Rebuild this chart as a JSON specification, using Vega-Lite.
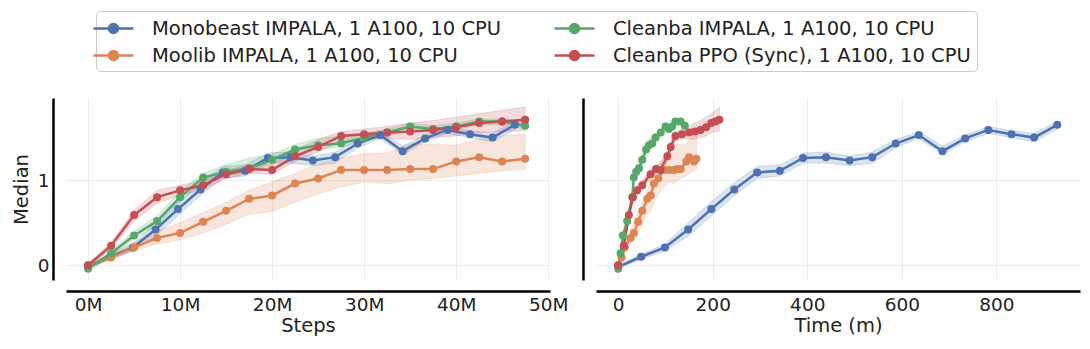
{
  "$schema": "https://vega.github.io/schema/vega-lite/v6.json",
  "padding": {"left": 11, "top": 10, "right": 9, "bottom": 8},
  "config": {
    "font": "DejaVu Sans",
    "view": {"stroke": null},
    "axis": {
      "labelFontSize": 18.5, "titleFontSize": 19.5, "titleFontWeight": "normal",
      "labelColor": "#222222", "titleColor": "#222222",
      "domainColor": "#000000", "domainWidth": 2.5, "ticks": false,
      "gridColor": "#ebebeb", "gridWidth": 1
    },
    "legend": {
      "orient": "none", "legendX": 30, "legendY": -87, "columns": 2, "title": null,
      "symbolType": "M-2,0H2M0.45,0A0.45,0.45,0,1,1,-0.45,0A0.45,0.45,0,1,1,0.45,0Z",
      "symbolSize": 400, "symbolStrokeWidth": 2.5, "symbolOpacity": 1,
      "labelFontSize": 19.5, "labelFont": "DejaVu Sans", "labelLimit": 600, "labelOffset": 27, "labelColor": "#222222",
      "columnPadding": 47, "rowPadding": 6, "padding": 6,
      "strokeColor": "#cccccc", "cornerRadius": 4, "fillColor": "white"
    }
  },
  "data": {"values": [
    {"s": "Monobeast IMPALA, 1 A100, 10 CPU", "step": 0, "time": 0, "v": -0.02, "lo": -0.04, "hi": 0.0},
    {"s": "Monobeast IMPALA, 1 A100, 10 CPU", "step": 2.44, "time": 48.7, "v": 0.10, "lo": 0.07, "hi": 0.13},
    {"s": "Monobeast IMPALA, 1 A100, 10 CPU", "step": 4.88, "time": 98.8, "v": 0.21, "lo": 0.17, "hi": 0.25},
    {"s": "Monobeast IMPALA, 1 A100, 10 CPU", "step": 7.33, "time": 148, "v": 0.42, "lo": 0.34, "hi": 0.50},
    {"s": "Monobeast IMPALA, 1 A100, 10 CPU", "step": 9.77, "time": 197, "v": 0.66, "lo": 0.58, "hi": 0.75},
    {"s": "Monobeast IMPALA, 1 A100, 10 CPU", "step": 12.21, "time": 245.5, "v": 0.89, "lo": 0.82, "hi": 0.97},
    {"s": "Monobeast IMPALA, 1 A100, 10 CPU", "step": 14.65, "time": 294, "v": 1.09, "lo": 1.02, "hi": 1.16},
    {"s": "Monobeast IMPALA, 1 A100, 10 CPU", "step": 17.09, "time": 342, "v": 1.11, "lo": 1.05, "hi": 1.18},
    {"s": "Monobeast IMPALA, 1 A100, 10 CPU", "step": 19.54, "time": 391, "v": 1.26, "lo": 1.20, "hi": 1.32},
    {"s": "Monobeast IMPALA, 1 A100, 10 CPU", "step": 21.98, "time": 439.6, "v": 1.27, "lo": 1.20, "hi": 1.33},
    {"s": "Monobeast IMPALA, 1 A100, 10 CPU", "step": 24.42, "time": 489.7, "v": 1.23, "lo": 1.17, "hi": 1.28},
    {"s": "Monobeast IMPALA, 1 A100, 10 CPU", "step": 26.86, "time": 537.6, "v": 1.27, "lo": 1.20, "hi": 1.33},
    {"s": "Monobeast IMPALA, 1 A100, 10 CPU", "step": 29.3, "time": 587, "v": 1.43, "lo": 1.38, "hi": 1.48},
    {"s": "Monobeast IMPALA, 1 A100, 10 CPU", "step": 31.75, "time": 636, "v": 1.53, "lo": 1.49, "hi": 1.57},
    {"s": "Monobeast IMPALA, 1 A100, 10 CPU", "step": 34.19, "time": 686, "v": 1.34, "lo": 1.30, "hi": 1.40},
    {"s": "Monobeast IMPALA, 1 A100, 10 CPU", "step": 36.63, "time": 734, "v": 1.49, "lo": 1.45, "hi": 1.53},
    {"s": "Monobeast IMPALA, 1 A100, 10 CPU", "step": 39.07, "time": 783, "v": 1.59, "lo": 1.55, "hi": 1.63},
    {"s": "Monobeast IMPALA, 1 A100, 10 CPU", "step": 41.51, "time": 832, "v": 1.54, "lo": 1.50, "hi": 1.58},
    {"s": "Monobeast IMPALA, 1 A100, 10 CPU", "step": 43.96, "time": 880, "v": 1.50, "lo": 1.45, "hi": 1.55},
    {"s": "Monobeast IMPALA, 1 A100, 10 CPU", "step": 46.4, "time": 929, "v": 1.65, "lo": 1.60, "hi": 1.69},

    {"s": "Moolib IMPALA, 1 A100, 10 CPU", "step": 0, "time": 0, "v": 0.0, "lo": -0.02, "hi": 0.02},
    {"s": "Moolib IMPALA, 1 A100, 10 CPU", "step": 2.5, "time": 7, "v": 0.09, "lo": 0.06, "hi": 0.13},
    {"s": "Moolib IMPALA, 1 A100, 10 CPU", "step": 5, "time": 14, "v": 0.21, "lo": 0.17, "hi": 0.27},
    {"s": "Moolib IMPALA, 1 A100, 10 CPU", "step": 7.5, "time": 26, "v": 0.32, "lo": 0.25, "hi": 0.40},
    {"s": "Moolib IMPALA, 1 A100, 10 CPU", "step": 10, "time": 33, "v": 0.38, "lo": 0.30, "hi": 0.50},
    {"s": "Moolib IMPALA, 1 A100, 10 CPU", "step": 12.5, "time": 42, "v": 0.51, "lo": 0.38, "hi": 0.62},
    {"s": "Moolib IMPALA, 1 A100, 10 CPU", "step": 15, "time": 51, "v": 0.64, "lo": 0.48, "hi": 0.74},
    {"s": "Moolib IMPALA, 1 A100, 10 CPU", "step": 17.5, "time": 61.6, "v": 0.78, "lo": 0.60, "hi": 0.88},
    {"s": "Moolib IMPALA, 1 A100, 10 CPU", "step": 20, "time": 68.7, "v": 0.82, "lo": 0.63, "hi": 0.98},
    {"s": "Moolib IMPALA, 1 A100, 10 CPU", "step": 22.5, "time": 75.6, "v": 0.96, "lo": 0.74, "hi": 1.08},
    {"s": "Moolib IMPALA, 1 A100, 10 CPU", "step": 25, "time": 84.8, "v": 1.02, "lo": 0.84, "hi": 1.19},
    {"s": "Moolib IMPALA, 1 A100, 10 CPU", "step": 27.5, "time": 96.7, "v": 1.12, "lo": 0.92, "hi": 1.26},
    {"s": "Moolib IMPALA, 1 A100, 10 CPU", "step": 30, "time": 107, "v": 1.12, "lo": 0.98, "hi": 1.31},
    {"s": "Moolib IMPALA, 1 A100, 10 CPU", "step": 32.5, "time": 118, "v": 1.12, "lo": 0.96, "hi": 1.32},
    {"s": "Moolib IMPALA, 1 A100, 10 CPU", "step": 35, "time": 125, "v": 1.13, "lo": 1.00, "hi": 1.43},
    {"s": "Moolib IMPALA, 1 A100, 10 CPU", "step": 37.5, "time": 132, "v": 1.13, "lo": 1.02, "hi": 1.42},
    {"s": "Moolib IMPALA, 1 A100, 10 CPU", "step": 40, "time": 144, "v": 1.22, "lo": 1.05, "hi": 1.41},
    {"s": "Moolib IMPALA, 1 A100, 10 CPU", "step": 42.5, "time": 150, "v": 1.27, "lo": 1.08, "hi": 1.48},
    {"s": "Moolib IMPALA, 1 A100, 10 CPU", "step": 45, "time": 160.5, "v": 1.22, "lo": 1.11, "hi": 1.52},
    {"s": "Moolib IMPALA, 1 A100, 10 CPU", "step": 47.5, "time": 165.5, "v": 1.25, "lo": 1.13, "hi": 1.54},

    {"s": "Cleanba IMPALA, 1 A100, 10 CPU", "step": 0, "time": 0, "v": -0.04, "lo": -0.06, "hi": -0.02},
    {"s": "Cleanba IMPALA, 1 A100, 10 CPU", "step": 2.5, "time": 5, "v": 0.14, "lo": 0.11, "hi": 0.17},
    {"s": "Cleanba IMPALA, 1 A100, 10 CPU", "step": 5, "time": 10, "v": 0.35, "lo": 0.31, "hi": 0.40},
    {"s": "Cleanba IMPALA, 1 A100, 10 CPU", "step": 7.5, "time": 19, "v": 0.52, "lo": 0.47, "hi": 0.58},
    {"s": "Cleanba IMPALA, 1 A100, 10 CPU", "step": 10, "time": 29.7, "v": 0.80, "lo": 0.74, "hi": 0.87},
    {"s": "Cleanba IMPALA, 1 A100, 10 CPU", "step": 12.5, "time": 33, "v": 1.03, "lo": 0.98, "hi": 1.08},
    {"s": "Cleanba IMPALA, 1 A100, 10 CPU", "step": 15, "time": 38, "v": 1.10, "lo": 1.05, "hi": 1.18},
    {"s": "Cleanba IMPALA, 1 A100, 10 CPU", "step": 17.5, "time": 44, "v": 1.14, "lo": 1.09, "hi": 1.26},
    {"s": "Cleanba IMPALA, 1 A100, 10 CPU", "step": 20, "time": 51, "v": 1.24, "lo": 1.18, "hi": 1.30},
    {"s": "Cleanba IMPALA, 1 A100, 10 CPU", "step": 22.5, "time": 59, "v": 1.36, "lo": 1.30, "hi": 1.42},
    {"s": "Cleanba IMPALA, 1 A100, 10 CPU", "step": 25, "time": 65, "v": 1.41, "lo": 1.36, "hi": 1.49},
    {"s": "Cleanba IMPALA, 1 A100, 10 CPU", "step": 27.5, "time": 72, "v": 1.43, "lo": 1.39, "hi": 1.52},
    {"s": "Cleanba IMPALA, 1 A100, 10 CPU", "step": 30, "time": 79, "v": 1.50, "lo": 1.46, "hi": 1.55},
    {"s": "Cleanba IMPALA, 1 A100, 10 CPU", "step": 32.5, "time": 90, "v": 1.56, "lo": 1.52, "hi": 1.60},
    {"s": "Cleanba IMPALA, 1 A100, 10 CPU", "step": 35, "time": 100, "v": 1.63, "lo": 1.59, "hi": 1.67},
    {"s": "Cleanba IMPALA, 1 A100, 10 CPU", "step": 37.5, "time": 107, "v": 1.60, "lo": 1.56, "hi": 1.64},
    {"s": "Cleanba IMPALA, 1 A100, 10 CPU", "step": 40, "time": 114, "v": 1.63, "lo": 1.59, "hi": 1.67},
    {"s": "Cleanba IMPALA, 1 A100, 10 CPU", "step": 42.5, "time": 121, "v": 1.69, "lo": 1.65, "hi": 1.72},
    {"s": "Cleanba IMPALA, 1 A100, 10 CPU", "step": 45, "time": 132, "v": 1.69, "lo": 1.65, "hi": 1.72},
    {"s": "Cleanba IMPALA, 1 A100, 10 CPU", "step": 47.5, "time": 141, "v": 1.64, "lo": 1.60, "hi": 1.68},

    {"s": "Cleanba PPO (Sync), 1 A100, 10 CPU", "step": 0, "time": 0, "v": 0.0, "lo": -0.02, "hi": 0.02},
    {"s": "Cleanba PPO (Sync), 1 A100, 10 CPU", "step": 2.5, "time": 12, "v": 0.23, "lo": 0.19, "hi": 0.27},
    {"s": "Cleanba PPO (Sync), 1 A100, 10 CPU", "step": 5, "time": 22.6, "v": 0.59, "lo": 0.52, "hi": 0.65},
    {"s": "Cleanba PPO (Sync), 1 A100, 10 CPU", "step": 7.5, "time": 31, "v": 0.80, "lo": 0.73, "hi": 0.88},
    {"s": "Cleanba PPO (Sync), 1 A100, 10 CPU", "step": 10, "time": 40, "v": 0.88, "lo": 0.82, "hi": 0.94},
    {"s": "Cleanba PPO (Sync), 1 A100, 10 CPU", "step": 12.5, "time": 51, "v": 0.94, "lo": 0.89, "hi": 1.00},
    {"s": "Cleanba PPO (Sync), 1 A100, 10 CPU", "step": 15, "time": 68.5, "v": 1.07, "lo": 1.02, "hi": 1.12},
    {"s": "Cleanba PPO (Sync), 1 A100, 10 CPU", "step": 17.5, "time": 80, "v": 1.13, "lo": 1.08, "hi": 1.18},
    {"s": "Cleanba PPO (Sync), 1 A100, 10 CPU", "step": 20, "time": 89.6, "v": 1.12, "lo": 1.07, "hi": 1.19},
    {"s": "Cleanba PPO (Sync), 1 A100, 10 CPU", "step": 22.5, "time": 104, "v": 1.28, "lo": 1.22, "hi": 1.36},
    {"s": "Cleanba PPO (Sync), 1 A100, 10 CPU", "step": 25, "time": 111, "v": 1.39, "lo": 1.33, "hi": 1.48},
    {"s": "Cleanba PPO (Sync), 1 A100, 10 CPU", "step": 27.5, "time": 121, "v": 1.52, "lo": 1.46, "hi": 1.57},
    {"s": "Cleanba PPO (Sync), 1 A100, 10 CPU", "step": 30, "time": 135, "v": 1.54, "lo": 1.48, "hi": 1.60},
    {"s": "Cleanba PPO (Sync), 1 A100, 10 CPU", "step": 32.5, "time": 150, "v": 1.56, "lo": 1.49, "hi": 1.63},
    {"s": "Cleanba PPO (Sync), 1 A100, 10 CPU", "step": 35, "time": 162, "v": 1.57, "lo": 1.48, "hi": 1.67},
    {"s": "Cleanba PPO (Sync), 1 A100, 10 CPU", "step": 37.5, "time": 174, "v": 1.59, "lo": 1.50, "hi": 1.70},
    {"s": "Cleanba PPO (Sync), 1 A100, 10 CPU", "step": 40, "time": 186, "v": 1.62, "lo": 1.52, "hi": 1.74},
    {"s": "Cleanba PPO (Sync), 1 A100, 10 CPU", "step": 42.5, "time": 197, "v": 1.67, "lo": 1.56, "hi": 1.78},
    {"s": "Cleanba PPO (Sync), 1 A100, 10 CPU", "step": 45, "time": 206, "v": 1.69, "lo": 1.57, "hi": 1.82},
    {"s": "Cleanba PPO (Sync), 1 A100, 10 CPU", "step": 47.5, "time": 214, "v": 1.71, "lo": 1.58, "hi": 1.86}
  ]},
  "spacing": 15,
  "hconcat": [
    {
      "width": 484, "height": 182,
      "encoding": {
        "x": {"field": "step", "type": "quantitative",
          "scale": {"domain": [-2.4, 50.2], "nice": false, "zero": false},
          "axis": {"values": [0, 10, 20, 30, 40, 50], "labelExpr": "datum.value + 'M'", "labelFlush": false, "offset": 11, "labelPadding": 4, "titlePadding": 3, "title": "Steps"}},
        "y": {"field": "v", "type": "quantitative", "scale": {"domain": [-0.173, 1.965], "nice": false, "zero": false},
          "axis": {"values": [0, 1], "format": "d", "offset": 13, "labelPadding": 4, "title": "Median", "titlePadding": 6}},
        "color": {"field": "s", "type": "nominal",
          "scale": {"domain": ["Monobeast IMPALA, 1 A100, 10 CPU", "Moolib IMPALA, 1 A100, 10 CPU", "Cleanba IMPALA, 1 A100, 10 CPU", "Cleanba PPO (Sync), 1 A100, 10 CPU"], "range": ["#4C72B0", "#DD8452", "#55A868", "#C44E52"]},
          "legend": {"encode": {"symbols": {"update": {"fill": {"scale": "color", "field": "value"}, "stroke": {"scale": "color", "field": "value"}}}}}}
      },
      "layer": [
        {
          "mark": {"type": "area", "fillOpacity": 0.2, "strokeOpacity": 0.2, "strokeWidth": 1},
          "encoding": {
            "y": {"field": "lo", "type": "quantitative", "scale": {"domain": [-0.173, 1.965], "nice": false, "zero": false},
              "axis": {"values": [0, 1], "format": "d", "offset": 13, "labelPadding": 4, "title": "Median", "titlePadding": 6}},
            "y2": {"field": "hi"},
            "stroke": {"field": "s", "type": "nominal", "legend": null,
              "scale": {"domain": ["Monobeast IMPALA, 1 A100, 10 CPU", "Moolib IMPALA, 1 A100, 10 CPU", "Cleanba IMPALA, 1 A100, 10 CPU", "Cleanba PPO (Sync), 1 A100, 10 CPU"], "range": ["#4C72B0", "#DD8452", "#55A868", "#C44E52"]}}
          }
        },
        {
          "mark": {"type": "line", "strokeWidth": 2.5}
        },
        {
          "mark": {"type": "point", "filled": true, "size": 64, "opacity": 1}
        }
      ]
    },
    {
      "width": 484, "height": 182,
      "encoding": {
        "x": {"field": "time", "type": "quantitative",
          "scale": {"domain": [-47, 977], "nice": false, "zero": false},
          "axis": {"values": [0, 200, 400, 600, 800], "labelFlush": false, "offset": 11, "labelPadding": 4, "titlePadding": 3, "title": "Time (m)"}},
        "y": {"field": "v", "type": "quantitative", "scale": {"domain": [-0.173, 1.965], "nice": false, "zero": false},
          "axis": {"values": [0, 1], "labels": false, "offset": 13, "title": null}},
        "color": {"field": "s", "type": "nominal",
          "legend": {"encode": {"symbols": {"update": {"fill": {"scale": "color", "field": "value"}, "stroke": {"scale": "color", "field": "value"}}}}}}
      },
      "layer": [
        {
          "mark": {"type": "area", "fillOpacity": 0.2, "strokeOpacity": 0.2, "strokeWidth": 1},
          "encoding": {
            "y": {"field": "lo", "type": "quantitative", "scale": {"domain": [-0.173, 1.965], "nice": false, "zero": false},
              "axis": {"values": [0, 1], "labels": false, "offset": 13, "title": null}},
            "y2": {"field": "hi"},
            "stroke": {"field": "s", "type": "nominal", "legend": null}
          }
        },
        {
          "mark": {"type": "line", "strokeWidth": 2.5}
        },
        {
          "mark": {"type": "point", "filled": true, "size": 64, "opacity": 1}
        }
      ]
    }
  ]
}
